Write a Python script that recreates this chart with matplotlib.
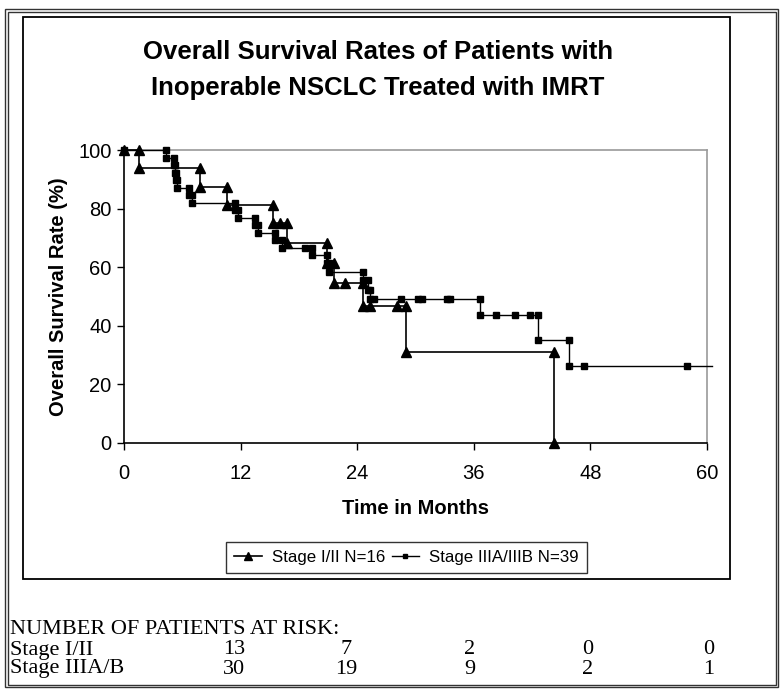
import matplotlib
matplotlib.use("Agg")
import matplotlib.pyplot as plt
from matplotlib.patches import Rectangle
from matplotlib.lines import Line2D

# ---- data (plotted Kaplan-Meier step vertices) ----
stage12_t = [0, 1.5, 1.5, 7.8, 7.8, 10.6, 10.6, 15.3, 15.3, 16.05, 16.8, 16.8,
             20.9, 20.9, 21.6, 21.6, 22.7, 24.6, 24.6, 25.3, 28.1, 29.0, 29.0,
             44.25, 44.25]
stage12_s = [100, 100, 93.75, 93.75, 87.5, 87.5, 81.25, 81.25, 75, 75, 75, 68.2,
             68.2, 61.4, 61.4, 54.5, 54.5, 54.5, 46.8, 46.8, 46.8, 46.8, 31.2,
             31.2, 0]

stage3_t = [0, 4.3, 4.3, 5.1, 5.1, 5.2, 5.2, 5.4, 5.4, 5.5, 5.5, 6.7, 6.7, 7.0, 7.0,
            11.4, 11.4, 11.7, 11.7, 13.5, 13.5, 13.8, 13.8, 15.5, 15.5, 16.3, 16.3,
            18.6, 19.3, 19.3, 20.9, 20.9, 21.1, 21.1, 24.6, 24.6, 25.1, 25.1,
            25.3, 25.3, 25.7, 28.5, 30.3, 30.7, 33.2, 33.6, 36.6, 36.6, 38.3,
            40.2, 41.8, 42.6, 42.6, 45.8, 45.8, 47.3, 57.9, 60.5]
stage3_s = [100, 100, 97.4, 97.4, 94.9, 94.9, 92.3, 92.3, 89.7, 89.7, 87.2, 87.2,
            84.6, 84.6, 82.05, 82.05, 79.5, 79.5, 76.9, 76.9, 74.4, 74.4, 71.8,
            71.8, 69.2, 69.2, 66.7, 66.7, 66.7, 64.1, 64.1, 61.5, 61.5, 58.5,
            58.5, 55.6, 55.6, 52.3, 52.3, 49.2, 49.2, 49.2, 49.2, 49.2, 49.2,
            49.2, 49.2, 43.7, 43.7, 43.7, 43.7, 43.7, 35.0, 35.0, 26.2, 26.2,
            26.2, 26.2]

x_ticks = [0, 12, 24, 36, 48, 60]
y_ticks = [0, 20, 40, 60, 80, 100]

risk_title = "NUMBER OF PATIENTS AT RISK:"
risk_groups = ["Stage I/II", "Stage IIIA/B"]
risk_stage12 = [13, 7, 2, 0, 0]
risk_stage3 = [30, 19, 9, 2, 1]

W, H = 784, 694
fig = plt.figure(figsize=(W / 100, H / 100), dpi=100)
SANS = ["Liberation Sans", "DejaVu Sans"]
SERIF = ["Liberation Serif", "DejaVu Serif"]

def fx(px):
    return px / W

def fy(py):
    return 1 - py / H

# outer double border
for (x0, y0, x1, y1) in [(5, 9, 778, 687), (7.5, 11.5, 775.5, 684.5)]:
    fig.patches.append(Rectangle((fx(x0), fy(y1)), fx(x1) - fx(x0), fy(y0) - fy(y1),
                                 transform=fig.transFigure, fill=False,
                                 edgecolor="#333333", linewidth=1.0))
# inner chart-area box
fig.patches.append(Rectangle((fx(23), fy(579)), fx(730) - fx(23), fy(17) - fy(579),
                             transform=fig.transFigure, fill=False,
                             edgecolor="black", linewidth=1.3))

ax = fig.add_axes([fx(124), fy(443), fx(707) - fx(124), fy(150) - fy(443)])
ax.plot(stage12_t, stage12_s, color="black", linewidth=1.2, marker="^",
        markersize=7.5, clip_on=False, zorder=3)
ax.plot(stage3_t, stage3_s, color="black", linewidth=1.0, marker="s",
        markersize=4.3, markevery=list(range(len(stage3_t) - 1)), clip_on=False,
        zorder=3)

ax.set_xlim(0, 60)
ax.set_ylim(0, 100)
ax.set_xticks(x_ticks)
ax.set_yticks(y_ticks)
ax.tick_params(direction="out", length=5, width=1, labelsize=14.5)
ax.tick_params(axis="x", pad=10)
ax.tick_params(axis="y", pad=4)
for lab in ax.get_xticklabels() + ax.get_yticklabels():
    lab.set_family(SANS)
ax.spines["left"].set_color("black")
ax.spines["bottom"].set_color("black")
ax.spines["top"].set_color("#9a9a9a")
ax.spines["right"].set_color("#9a9a9a")
for s in ax.spines.values():
    s.set_linewidth(1.2)

ax.set_xlabel("Time in Months", family=SANS, fontsize=14.5, fontweight="bold",
              labelpad=12)
ax.set_ylabel("Overall Survival Rate (%)", family=SANS, fontsize=14.5,
              fontweight="bold", labelpad=7)

fig.text(fx(378), fy(52), "Overall Survival Rates of Patients with",
         family=SANS, fontsize=18.5, fontweight="bold", ha="center", va="center")
fig.text(fx(378), fy(88), "Inoperable NSCLC Treated with IMRT",
         family=SANS, fontsize=18.5, fontweight="bold", ha="center", va="center")

handles = [Line2D([], [], color="black", marker="^", markersize=6, linewidth=1.2),
           Line2D([], [], color="black", marker="s", markersize=3.5, linewidth=1.0)]
leg = fig.legend(handles, ["Stage I/II N=16", "Stage IIIA/IIIB N=39"],
                 loc="center", bbox_to_anchor=(fx(406.5), fy(557.5)),
                 bbox_transform=fig.transFigure, ncol=2, numpoints=1,
                 frameon=True, fancybox=False, edgecolor="black",
                 prop={"family": SANS, "size": 12.2}, handlelength=1.6,
                 handletextpad=0.6, columnspacing=0.4, borderpad=0.5,
                 borderaxespad=0.0)
leg.get_frame().set_linewidth(1.0)

# risk table
fs_tab = 16
fig.text(fx(10), fy(630), risk_title, family=SERIF, fontsize=fs_tab,
         ha="left", va="center")
col_x = [234, 346, 470, 588, 709]
for name, vals, yy in [(risk_groups[0], risk_stage12, 650),
                       (risk_groups[1], risk_stage3, 669)]:
    fig.text(fx(10), fy(yy), name, family=SERIF, fontsize=fs_tab, ha="left",
             va="center")
    for cx, v in zip(col_x, vals):
        fig.text(fx(cx), fy(yy), str(v), family=SERIF, fontsize=fs_tab,
                 ha="center", va="center")

fig.savefig("out.png", dpi=100)
